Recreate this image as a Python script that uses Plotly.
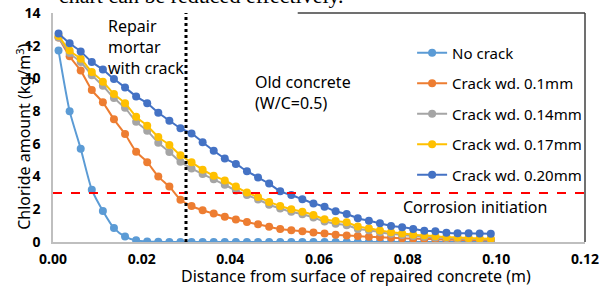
import plotly.graph_objects as go

# x positions (m)
distance = [0.00125 + 0.0025 * i for i in range(40)]

no_crack = [11.7, 8.0, 5.7, 3.2, 1.9, 0.85, 0.33, 0.1, 0.03, 0.01] + [0.0] * 30

crack_010 = [12.5, 11.35, 10.48, 9.29, 8.54, 7.5, 6.6, 5.52, 4.88, 4.0,
             3.39, 2.58, 2.2, 1.94, 1.74, 1.54, 1.37, 1.22, 1.08, 0.93,
             0.79, 0.72, 0.66, 0.58, 0.52, 0.45, 0.4, 0.36, 0.32, 0.29,
             0.26, 0.23, 0.21, 0.19, 0.17, 0.15, 0.13, 0.12, 0.11, 0.1]

crack_014 = [12.5, 11.55, 11.0, 10.2, 9.55, 8.8, 8.2, 7.35, 6.8, 6.07,
             5.5, 4.9, 4.5, 4.15, 3.83, 3.5, 3.15, 2.87, 2.6, 2.28,
             2.05, 1.85, 1.7, 1.5, 1.25, 1.12, 1.02, 0.8, 0.72, 0.6,
             0.5, 0.43, 0.37, 0.32, 0.28, 0.24, 0.21, 0.19, 0.17, 0.15]

crack_017 = [12.6, 11.7, 11.2, 10.4, 9.8, 9.05, 8.48, 7.66, 7.1, 6.42,
             5.93, 5.3, 4.87, 4.42, 4.05, 3.76, 3.39, 3.02, 2.75, 2.45,
             2.2, 2.0, 1.85, 1.65, 1.39, 1.28, 1.2, 0.95, 0.84, 0.7,
             0.6, 0.52, 0.45, 0.4, 0.35, 0.3, 0.27, 0.24, 0.22, 0.2]

crack_020 = [12.75, 12.15, 11.65, 11.0, 10.55, 9.96, 9.45, 8.9, 8.48, 7.9,
             7.42, 6.95, 6.64, 6.1, 5.58, 5.11, 4.77, 4.33, 3.95, 3.57,
             3.1, 2.87, 2.61, 2.36, 2.16, 1.88, 1.71, 1.45, 1.3, 1.14,
             0.98, 0.9, 0.8, 0.69, 0.65, 0.57, 0.53, 0.53, 0.52, 0.51]

series_names = ["No crack", "Crack wd. 0.1mm", "Crack wd. 0.14mm",
                "Crack wd. 0.17mm", "Crack wd. 0.20mm"]
series_values = [no_crack, crack_010, crack_014, crack_017, crack_020]
colors = ["#5B9BD5", "#ED7D31", "#A5A5A5", "#FFC000", "#4472C4"]

x_ticks = [0.00, 0.02, 0.04, 0.06, 0.08, 0.10, 0.12]
y_ticks = [0, 2, 4, 6, 8, 10, 12, 14]

corrosion_level = 3
repair_boundary = 0.03

FONT = "Noto Sans"

fig = go.Figure()
for name, vals, col in zip(series_names, series_values, colors):
    fig.add_trace(go.Scatter(
        x=distance, y=vals, name=name, mode="lines+markers",
        line=dict(color=col, width=2, shape="spline", smoothing=0.6),
        marker=dict(color=col, size=8),
        legendgroup=name,
    ))

# Corrosion initiation line
fig.add_shape(type="line", xref="paper", x0=0, x1=1, yref="y",
              y0=corrosion_level, y1=corrosion_level,
              line=dict(color="#FF0000", width=2, dash="dash"))
# Repair boundary
fig.add_shape(type="line", xref="x", x0=repair_boundary, x1=repair_boundary,
              yref="paper", y0=0, y1=1,
              line=dict(color="black", width=3, dash="dot"))
# Frame segments (top-right)
fig.add_shape(type="line", xref="paper", yref="paper", x0=0.46, x1=1, y0=1, y1=1,
              line=dict(color="#404040", width=1.5))
fig.add_shape(type="line", xref="paper", yref="paper", x0=1, x1=1, y0=0, y1=1,
              line=dict(color="#404040", width=1.5))

fig.add_annotation(x=0.0119, y=14.0, xref="x", yref="y", xanchor="left", yanchor="top",
                   text="Repair<br>mortar<br>with crack", showarrow=False, align="left",
                   font=dict(family=FONT, size=16, color="black"))
fig.add_annotation(x=0.0452, y=10.58, xref="x", yref="y", xanchor="left", yanchor="top",
                   text="Old concrete<br>(W/C=0.5)", showarrow=False, align="left",
                   font=dict(family=FONT, size=16, color="black"))
fig.add_annotation(x=0.0951, y=2.12, xref="x", yref="y", xanchor="center", yanchor="middle",
                   text="Corrosion initiation", showarrow=False,
                   font=dict(family=FONT, size=16, color="black"))
# Axis titles
fig.add_annotation(x=0.569, y=-0.15, xref="paper", yref="paper", xanchor="center",
                   yanchor="middle", showarrow=False,
                   text="Distance from surface of repaired concrete (m)",
                   font=dict(family=FONT, size=16, color="black"))
fig.add_annotation(x=-0.056, y=0.46, xref="paper", yref="paper", xanchor="center",
                   yanchor="middle", showarrow=False, textangle=-90,
                   text="Chloride amount (kg/m<sup>3</sup>)",
                   font=dict(family=FONT, size=16, color="black"))
# Cut-off text from surrounding page
fig.add_annotation(x=0.279, y=1.078, xref="paper", yref="paper", xanchor="center",
                   yanchor="middle", text="chart can be reduced effectively.",
                   showarrow=False, font=dict(family="Liberation Serif", size=22, color="black"))

fig.update_layout(
    width=599, height=286,
    margin=dict(l=53, r=12, t=13, b=44),
    paper_bgcolor="white", plot_bgcolor="white",
    font=dict(family=FONT, color="black"),
    showlegend=True,
    legend=dict(x=0.675, y=0.897, xanchor="left", yanchor="top",
                bgcolor="rgba(0,0,0,0)", font=dict(family=FONT, size=15),
                tracegroupgap=8, itemwidth=30),
    xaxis=dict(range=[0, 0.12], tickvals=x_ticks, tickformat=".2f",
               showgrid=False, zeroline=False, showline=True, automargin=False,
               linecolor="#BFBFBF", linewidth=1.5, ticks="", ticklabelstandoff=3,
               tickfont=dict(family=FONT, size=14, weight="bold")),
    yaxis=dict(range=[0, 14], tickvals=y_ticks, showgrid=False, zeroline=False,
               showline=True, linecolor="#BFBFBF", linewidth=1.5, ticks="",
               automargin=False, ticklabelstandoff=8,
               tickfont=dict(family=FONT, size=14, weight="bold")),
)

fig.write_html("out.html", config={"displayModeBar": False},
               post_script="document.body.style.margin='0px';document.body.style.overflow='hidden';")
